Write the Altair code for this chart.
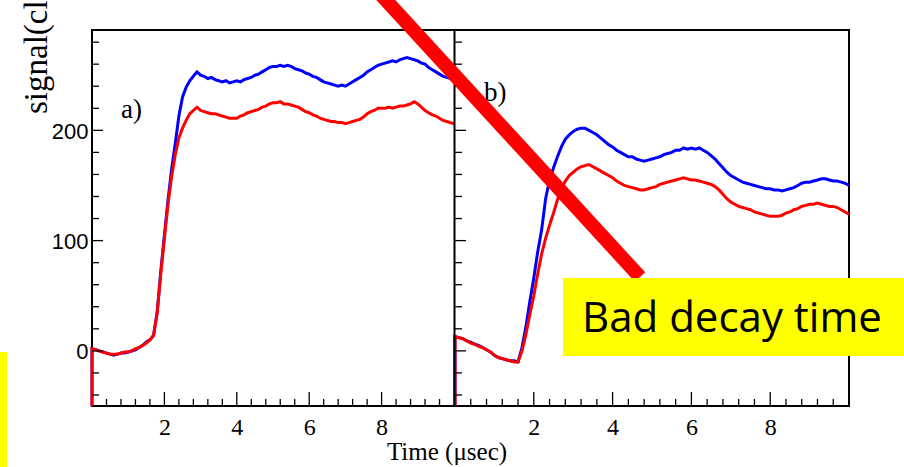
import altair as alt
import pandas as pd

# ---------------- data ----------------
X = [round(i * 0.1, 1) for i in range(101)]   # µs

LEFT_BLUE = [2, 1, 0, -1, -2, -3, -4, -3, -2, -2, -1, 0, 1, 3, 5, 8, 10, 14,
             35, 72, 105, 137, 165, 188, 213, 230, 239, 245, 249, 253, 250,
             249, 247, 248, 246, 245, 244, 245, 243, 244,
             245, 244, 246, 247, 248, 250, 251, 253, 255, 257,
             258, 258, 259, 258, 259, 258, 256, 255, 254, 252,
             251, 249, 248, 246, 244, 243, 242, 241, 240, 241,
             240, 242, 244, 246, 248, 250, 253, 255, 257, 259,
             260, 261, 262, 263, 262, 264, 265, 266, 265, 264,
             263, 261, 260, 257, 255, 253, 251, 249, 248, 247,
             247]
LEFT_RED = [2, 1, 0, -1, -2, -3, -3, -3, -2, -1, -1, 0, 2, 3, 5, 7, 10, 14,
            34, 70, 102, 133, 158, 178, 193, 202, 209, 215, 218, 221, 218,
            217, 216, 215, 215, 214, 213, 212, 211, 211,
            211, 213, 214, 216, 217, 218, 219, 221, 222, 224,
            225, 225, 226, 224, 224, 223, 222, 221, 219, 217,
            216, 214, 213, 211, 210, 209, 208, 208, 207, 207,
            206, 207, 208, 209, 210, 212, 215, 217, 218, 220,
            220, 220, 221, 220, 221, 222, 222, 223, 224, 226,
            224, 221, 218, 216, 214, 213, 211, 209, 208, 207,
            206]
RIGHT_BLUE = [13, 12, 11, 9, 8, 6, 5, 3, 1, -1, -4, -6, -7, -8, -9, -9, -10, 3,
              22, 45, 66, 90, 110, 138, 155, 166, 176, 185, 192, 196, 199,
              201, 202, 202, 200, 198, 196, 193, 190, 187,
              185, 182, 180, 178, 176, 176, 174, 173, 172, 173,
              174, 175, 176, 178, 179, 180, 182, 182, 184, 183,
              184, 183, 184, 182, 180, 177, 174, 170, 166, 162,
              159, 157, 155, 153, 152, 151, 150, 149, 148, 147,
              147, 146, 146, 145, 146, 147, 148, 150, 152, 153,
              153, 154, 155, 156, 156, 155, 154, 154, 153, 152,
              150]
RIGHT_RED = [13, 12, 11, 9, 7, 6, 4, 3, 1, -1, -4, -6, -7, -8, -9, -10, -10, 0,
             15, 33, 50, 70, 88, 102, 114, 125, 137, 147, 154, 159, 162,
             165, 167, 168, 169, 167, 165, 163, 161, 159,
             157, 154, 152, 150, 149, 148, 147, 146, 146, 147,
             148, 149, 151, 152, 153, 154, 155, 156, 157, 156,
             155, 155, 154, 153, 152, 151, 149, 146, 142, 138,
             135, 133, 131, 130, 129, 128, 126, 125, 124, 123,
             122, 122, 122, 123, 125, 126, 128, 129, 131, 132,
             133, 133, 134, 133, 132, 131, 131, 130, 128, 126,
             124]

Y_MIN, Y_MAX = -50, 291
X_MIN, X_MAX = 0, 10
Y_LABELS = [0, 100, 200]
Y_TICKS_MAJOR = [0, 100, 200]
Y_TICKS_MINOR = [-40, -20, 20, 40, 60, 80, 120, 140, 160, 180, 220, 240, 260, 280]
X_LABELS = [2, 4, 6, 8]
X_TICKS_MAJOR = [2, 4, 6, 8]
X_TICKS_MINOR = [0.4, 0.8, 1.2, 1.6, 2.4, 2.8, 3.2, 3.6, 4.4, 4.8, 5.2, 5.6,
                 6.4, 6.8, 7.2, 7.6, 8.4, 8.8, 9.2, 9.6]

# ---------------- layout (pixels) ----------------
W, H = 757, 376
LEFT_RANGE = [0, 362]
RIGHT_RANGE = [363, 757]
BLUE, RED = "#0000FF", "#FF0000"


def series_df(ys):
    # histogram outline starts at the bottom of the frame
    return pd.DataFrame({"x": [X[0]] + X, "y": [Y_MIN] + ys})


def vals_df(col, vals):
    return pd.DataFrame({col: vals})


y_enc = alt.Y("y:Q",
              scale=alt.Scale(domain=[Y_MIN, Y_MAX], nice=False, zero=False),
              axis=alt.Axis(values=Y_LABELS, ticks=False, tickSize=0, domain=False,
                            grid=False, labelFont="Liberation Sans", labelFontSize=22,
                            labelPadding=4, labelColor="black", labelOffset=1, title=None))


def x_enc(rng):
    return alt.X("x:Q",
                 scale=alt.Scale(domain=[X_MIN, X_MAX], range=rng, nice=False, zero=False),
                 axis=alt.Axis(values=X_LABELS, orient="bottom", ticks=False, tickSize=0,
                               domain=False, grid=False, labelFont="Liberation Serif",
                               labelFontSize=24, labelPadding=9, labelColor="black",
                               labelFlush=False, title=None))


def panel(blue, red, rng):
    xe = x_enc(rng)
    x0 = rng[0]
    line_b = alt.Chart(series_df(blue)).mark_line(
        interpolate="linear", color=BLUE, strokeWidth=3).encode(x=xe, y=y_enc)
    line_r = alt.Chart(series_df(red)).mark_line(
        interpolate="linear", color=RED, strokeWidth=3).encode(x=xe, y=y_enc)
    xt_min = alt.Chart(vals_df("x", X_TICKS_MINOR)).mark_tick(
        color="black", orient="vertical", size=7, thickness=1.3, opacity=1).encode(
        x=xe, y=alt.value(H - 3.5))
    xt_maj = alt.Chart(vals_df("x", X_TICKS_MAJOR)).mark_tick(
        color="black", orient="vertical", size=14, thickness=1.3, opacity=1).encode(
        x=xe, y=alt.value(H - 7))
    yt_min = alt.Chart(vals_df("y", Y_TICKS_MINOR)).mark_tick(
        color="black", orient="horizontal", size=7, thickness=1.3, opacity=1).encode(
        y=y_enc, x=alt.value(x0 + 3.5))
    yt_maj = alt.Chart(vals_df("y", Y_TICKS_MAJOR)).mark_tick(
        color="black", orient="horizontal", size=11, thickness=1.3, opacity=1).encode(
        y=y_enc, x=alt.value(x0 + 5.5))
    return alt.layer(line_b, line_r, xt_min, xt_maj, yt_min, yt_maj)


left = panel(LEFT_BLUE, LEFT_RED, LEFT_RANGE)
right = panel(RIGHT_BLUE, RIGHT_RED, RIGHT_RANGE)

base = alt.Chart(pd.DataFrame({"k": [0]}))

split = base.mark_rule(color="black", strokeWidth=2).encode(
    x=alt.value(362.5), y=alt.value(0), y2=alt.value(H))

label_a = base.mark_text(text="a)", font="Liberation Serif", fontSize=27,
                         align="left", baseline="alphabetic", color="black").encode(
    x=alt.value(29), y=alt.value(88))
label_b = base.mark_text(text="b)", font="Liberation Serif", fontSize=27,
                         align="left", baseline="alphabetic", color="black").encode(
    x=alt.value(392), y=alt.value(71))

x_title = base.mark_text(text="Time (μsec)", font="Liberation Serif", fontSize=25,
                         align="center", baseline="alphabetic", color="black").encode(
    x=alt.value(355), y=alt.value(430))
y_title = base.mark_text(text="signal(cl", font="Liberation Serif", fontSize=33,
                         align="left", baseline="alphabetic", angle=270, color="black").encode(
    x=alt.value(-45), y=alt.value(84))

slash = base.mark_rule(color=RED, strokeWidth=14, strokeCap="butt").encode(
    x=alt.value(280), y=alt.value(-45), x2=alt.value(548), y2=alt.value(247))

box = base.mark_rect(color="#FFFF00").encode(
    x=alt.value(471), x2=alt.value(815), y=alt.value(248), y2=alt.value(326))
box_text = base.mark_text(text="Bad decay time", font="Open Sans", fontSize=42,
                          align="center", baseline="alphabetic", color="black").encode(
    x=alt.value(640), y=alt.value(302))

strip = base.mark_rect(color="#FFFF00").encode(
    x=alt.value(-92), x2=alt.value(-85), y=alt.value(322), y2=alt.value(445))

chart = alt.layer(
    left, right, split, label_a, label_b, slash, box, box_text, strip, x_title, y_title
).resolve_scale(x="independent").properties(
    width=W, height=H,
    autosize=alt.AutoSizeParams(type="none"),
    padding={"left": 92, "top": 30, "right": 55, "bottom": 61},
    background="white",
).configure_view(stroke="black", strokeWidth=2)

chart.save("out.html", embed_options={"renderer": "svg", "actions": False})
